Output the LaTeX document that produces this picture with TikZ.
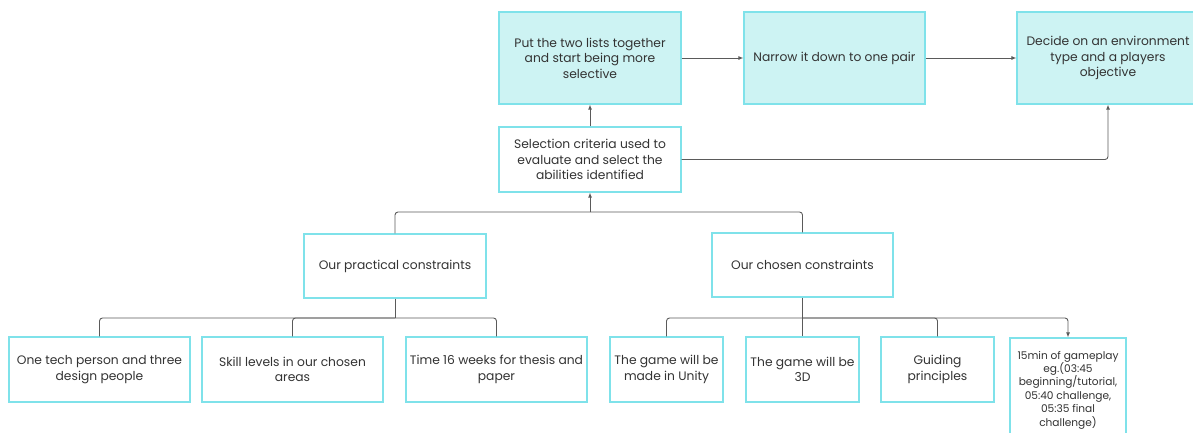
\documentclass[tikz,border=0pt]{standalone}
\usepackage{fontspec}
\setmainfont{Poppins}
\usetikzlibrary{arrows.meta}
\definecolor{boxline}{HTML}{7FE2EA}
\definecolor{boxfill}{HTML}{CDF3F3}
\definecolor{ink}{HTML}{333333}
\definecolor{wirecol}{HTML}{5A5A5A}
\begin{document}
\begin{tikzpicture}[x=1pt,y=-1pt,
  box/.style={draw=boxline, line width=1.2pt, fill=white, text=ink, align=center,
    inner sep=0pt, font=\fontsize{12.3}{15.4}\selectfont},
  hl/.style={box, fill=boxfill},
  wire/.style={draw=wirecol, line width=0.9pt, rounded corners=3pt},
  tip/.style={wire, -{Latex[length=5pt,width=4pt]}}]

\clip (0,0) rectangle (1193,432);

% top row
\node[hl, minimum width=182pt, minimum height=92pt] (A) at (590,58)
  {Put the two lists together\\and start being more\\selective};
\node[hl, minimum width=181pt, minimum height=92pt] (B) at (834.5,58)
  {Narrow it down to one pair};
\node[hl, minimum width=182pt, minimum height=92pt] (C) at (1108,58)
  {Decide on an environment\\type and a players\\objective};

% selection criteria
\node[box, minimum width=182pt, minimum height=65pt] (sel) at (590,159.5)
  {Selection criteria used to\\evaluate and select the\\abilities identified};

% constraint groups
\node[box, minimum width=182pt, minimum height=64pt] (P) at (395,266)
  {Our practical constraints};
\node[box, minimum width=181pt, minimum height=64pt] (Q) at (802.5,265)
  {Our chosen constraints};

% practical constraints
\node[box, minimum width=181pt, minimum height=65pt] (L1) at (99.5,369.5)
  {One tech person and three\\design people};
\node[box, minimum width=181pt, minimum height=65pt] (L2) at (292.5,369.5)
  {Skill levels in our chosen\\areas};
\node[box, minimum width=181pt, minimum height=65pt] (L3) at (496.5,369.5)
  {Time 16 weeks for thesis and\\paper};

% chosen constraints
\node[box, minimum width=113pt, minimum height=65pt] (R1) at (666.5,369.5)
  {The game will be\\made in Unity};
\node[box, minimum width=113pt, minimum height=65pt] (R2) at (802.5,369.5)
  {The game will be\\3D};
\node[box, minimum width=113pt, minimum height=65pt] (R3) at (937.5,369.5)
  {Guiding\\principles};
\node[box, minimum width=116pt, minimum height=104pt,
  font=\fontsize{10.6}{13.4}\selectfont] (R4) at (1068,390)
  {15min of gameplay\\eg.(03:45\\beginning/tutorial,\\05:40 challenge,\\05:35 final\\challenge)};

% top flow
\draw[tip] (sel.north) -- (A.south);
\draw[tip] (A.east) -- (B.west);
\draw[tip] (B.east) -- (C.west);
\draw[tip] (sel.east) -| (C.south);

% groups into selection criteria
\coordinate (gj) at (590,212);
\draw[wire] (P.north) |- (gj);
\draw[wire] (Q.north) |- (gj);
\draw[tip] (gj) -- (sel.south);

% practical constraints tree
\coordinate (pj) at (395,318);
\draw[wire] (P.south) -- (pj);
\draw[wire] (pj) -| (L1.north);
\draw[wire] (pj) -| (L2.north);
\draw[wire] (pj) -| (L3.north);

% chosen constraints tree
\coordinate (qj) at (802.5,318);
\draw[wire] (Q.south) -- (R2.north);
\draw[wire] (qj) -| (R1.north);
\draw[wire] (qj) -| (R3.north);
\draw[tip] (qj) -| (R4.north);
\end{tikzpicture}
\end{document}
